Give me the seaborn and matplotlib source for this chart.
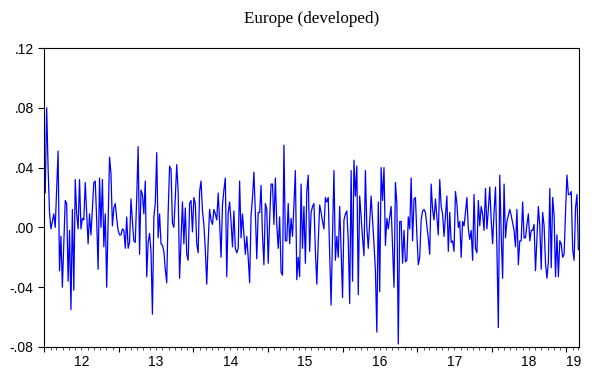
import matplotlib
matplotlib.use("Agg")
import numpy as np
import pandas as pd
import matplotlib.pyplot as plt
import matplotlib.dates as mdates
from matplotlib.ticker import NullFormatter
import seaborn as sns

# ---------------- data (weekly returns) ----------------
title_text = "Europe (developed)"
start_date = "2012-01-06"
year_labels = ["12", "13", "14", "15", "16", "17", "18", "19"]
y_ticks = [-0.08, -0.04, 0.0, 0.04, 0.08, 0.12]
y_tick_labels = ["-.08", "-.04", ".00", ".04", ".08", ".12"]

seg_2012a = [0.023, 0.080, 0.040, 0.010, -0.001, 0.004, 0.009, 0.000, 0.025, 0.051,
             -0.029, -0.006, -0.040, -0.010, 0.018, 0.016, -0.036, -0.002, -0.055, 0.012,
             -0.042, 0.032, 0.009, -0.001, 0.032, -0.001, 0.006, 0.005, 0.030, 0.010,
             -0.011, 0.009, -0.005, 0.012, 0.030, 0.031, 0.005, -0.028]
seg_2012b = [0.033, 0.000, 0.032, -0.013, 0.009, -0.040, 0.005, 0.047, 0.036, 0.001,
             0.013, 0.016, 0.006, -0.002, -0.005, -0.005, -0.001, -0.002, -0.014, 0.007,
             -0.014, -0.010, 0.019, 0.004, -0.009, -0.010, 0.020, 0.054, -0.018, 0.025,
             0.022, 0.009, 0.031, -0.033, -0.010, -0.004, -0.016, -0.058, 0.007, 0.016,
             0.050, -0.007]
seg_2013 = [0.009, -0.011, -0.012, -0.016, -0.028, -0.037, 0.010, 0.041, 0.039, 0.003,
            0.000, 0.020, 0.042, 0.024, -0.034, -0.008, 0.017, -0.011, 0.013, -0.018,
            -0.022, 0.016, 0.018, -0.003, 0.020, 0.016, -0.011, -0.017, 0.024, 0.031,
            0.011, 0.002, -0.015, -0.038, -0.010, 0.012, 0.005, 0.002, 0.012, 0.009,
            0.005, 0.023]
seg_2014 = [0.004, -0.020, 0.015, 0.025, 0.033, -0.033, 0.010, 0.017, 0.004, -0.013,
            0.011, -0.014, -0.017, -0.014, 0.031, -0.007, 0.009, -0.005, -0.018, -0.006,
            -0.020, -0.037, 0.008, 0.020, 0.037, 0.010, -0.021, 0.010, 0.010, 0.028,
            -0.005, -0.025, 0.016, 0.012, -0.024, 0.005, 0.029, 0.029, 0.002, 0.033,
            0.002, -0.014, 0.007]
seg_2015 = [-0.030, -0.032, 0.055, -0.009, -0.009, 0.016, -0.011, 0.006, -0.006, 0.015,
            0.038, -0.035, -0.020, -0.033, 0.029, -0.014, 0.014, -0.024, 0.024, 0.035,
            -0.016, 0.010, 0.014, 0.016, -0.016, -0.038, -0.010, 0.015, 0.010, 0.004,
            -0.001, 0.020, 0.017, 0.020, -0.018, -0.052, -0.005, 0.038, -0.022, -0.006,
            -0.020, 0.014]
seg_2016 = [-0.015, -0.047, 0.005, 0.009, 0.011, -0.009, -0.051, 0.038, -0.036, 0.045,
            0.021, 0.041, -0.045, 0.021, 0.007, -0.007, -0.019, 0.038, 0.000, -0.014,
            0.003, 0.021, 0.005, -0.011, -0.029, -0.070, 0.017, -0.043, 0.040, 0.018,
            0.040, -0.012, 0.006, -0.001, 0.007, 0.014, -0.012, -0.040, 0.030, 0.016,
            -0.078]
seg_2017 = [0.004, 0.004, -0.024, -0.002, -0.023, -0.022, 0.007, -0.001, 0.033, -0.009,
            0.019, 0.020, -0.005, -0.025, -0.020, 0.005, 0.011, 0.012, 0.010, 0.001,
            -0.007, -0.018, 0.029, 0.012, 0.005, 0.019, 0.007, -0.005, 0.032, 0.014,
            0.009, -0.006, 0.008, 0.021, -0.016, 0.010, -0.010, -0.009, -0.016, 0.024,
            0.016, 0.000]
seg_2018a = [0.004, -0.020, 0.004, 0.001, 0.010, 0.020, -0.001, -0.008, -0.002, -0.022,
             0.022, -0.014, -0.017, 0.018, 0.001, 0.014, 0.009, -0.002, 0.026, -0.001,
             0.012, 0.027, 0.005, -0.011, 0.010, 0.027, -0.014, -0.067, 0.035, -0.005,
             -0.034, 0.029, -0.007, 0.004, 0.008, 0.012, 0.008, 0.003, -0.002, -0.013,
             0.012, -0.025]
seg_2018b = [-0.009, -0.009, 0.017, -0.007, -0.007, 0.002, 0.009, -0.009, -0.002, -0.002,
             0.002, -0.029, -0.008, 0.014, 0.001, -0.028, 0.010, 0.001, -0.024, -0.034,
             -0.023, 0.026, -0.027, 0.020, 0.008, -0.033, -0.005, -0.033, -0.009, -0.011,
             -0.020, -0.018, 0.010, 0.035, 0.022, 0.022, 0.024, -0.015, -0.022, 0.013,
             0.022, -0.015]

values = (seg_2012a + seg_2012b + seg_2013 + seg_2014 + seg_2015 + seg_2016
          + seg_2017 + seg_2018a + seg_2018b)
dates = pd.date_range(start_date, periods=len(values), freq="7D")
df = pd.DataFrame({"date": dates, "value": values})

# ---------------- style ----------------
sns.set_style("white")
plt.rcParams['font.family'] = ['Liberation Sans', 'DejaVu Sans']

fig = plt.figure(figsize=(5.92, 3.79), dpi=100)
ax = fig.add_axes([44.0 / 592, 1 - 347 / 379, (579 - 44.0) / 592, (347 - 48) / 379])

sns.lineplot(data=df, x="date", y="value", ax=ax, color="#0000FF",
             linewidth=0.9, legend=False)

x_left = dates[0] - pd.Timedelta(days=6)
x_right = dates[-1] + pd.Timedelta(days=3)
ax.set_xlim(x_left, x_right)
ax.set_ylim(y_ticks[0], y_ticks[-1])
ax.set_yticks(y_ticks)
ax.set_yticklabels(y_tick_labels)
ax.set_xlabel("")
ax.set_ylabel("")

for s in ax.spines.values():
    s.set_visible(True)
    s.set_color("black")
    s.set_linewidth(0.8)

ax.xaxis.set_major_locator(mdates.YearLocator())
ax.xaxis.set_minor_locator(mdates.MonthLocator())
ax.xaxis.set_major_formatter(NullFormatter())
ax.xaxis.set_minor_formatter(NullFormatter())
ax.tick_params(axis='x', which='major', bottom=True, length=3.8, width=0.8,
               direction='out', color='black')
ax.tick_params(axis='x', which='minor', bottom=True, length=2.4, width=0.6,
               direction='out', color='#333333')
ax.tick_params(axis='y', which='major', left=True, length=4.5, width=0.8,
               direction='out', labelsize=10, pad=3, colors='black')
ax.grid(False)

# year labels centred within each year (last one sits at the right end)
first_year = 2012
for k, lab in enumerate(year_labels):
    yr = first_year + k
    if k < len(year_labels) - 1:
        xpos = pd.Timestamp(f"{yr}-07-02")
    else:
        xpos = x_right - pd.Timedelta(days=28)
    ax.annotate(lab, xy=(mdates.date2num(xpos), 0), xycoords=('data', 'axes fraction'),
                xytext=(0, -5.5), textcoords='offset points', ha='center', va='top',
                fontsize=10, color='black')

fig.text(311.5 / 592, 1 - 23.0 / 379, title_text, ha='center', va='baseline',
         fontsize=12.3, family=['Liberation Serif', 'DejaVu Serif'], color='black')

fig.savefig("out.png", dpi=100)
